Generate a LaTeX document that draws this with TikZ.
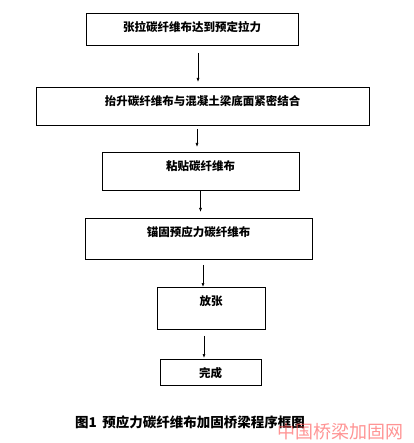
\documentclass[tikz,border=0pt]{standalone}
\usepackage{fontspec}
\newfontfamily\cjk{Noto Sans CJK SC}
\usepackage{tikz}
\usetikzlibrary{arrows.meta,positioning}

\begin{document}
\begin{tikzpicture}[x=1pt, y=-1pt, >={Latex[length=4pt,width=3pt]},
  stepbox/.style={draw, line width=0.8pt, inner sep=0pt, anchor=north, text height=18pt, font=\cjk\bfseries\fontsize{11.5}{12}\selectfont},
  flow/.style={->, line width=0.6pt}]
  \useasboundingbox (0,0) rectangle (413,443);
  % process steps
  \node[stepbox, minimum width=212pt, text depth=14pt] (s1) at (192,13) {张拉碳纤维布达到预定拉力};
  \node[stepbox, minimum width=333pt, text depth=20pt] (s2) at (202.5,87) {抬升碳纤维布与混凝土梁底面紧密结合};
  \node[stepbox, minimum width=197pt, text depth=20pt] (s3) at (200.5,152) {粘贴碳纤维布};
  \node[stepbox, minimum width=227pt, text depth=23pt] (s4) at (198.5,218) {锚固预应力碳纤维布};
  \node[stepbox, minimum width=108pt, text depth=24pt] (s5) at (211,287) {放张};
  \node[stepbox, minimum width=101pt, text depth=8pt] (s6) at (210.5,359) {完成};
  % connectors
  \draw[flow, shorten <=7pt, shorten >=5pt] ([xshift=6pt]s1.south) -- ([xshift=6pt]s1.south |- s2.north);
  \draw[flow, shorten <=3pt, shorten >=5pt] ([xshift=-5.5pt]s2.south) -- ([xshift=-5.5pt]s2.south |- s3.north);
  \draw[flow, shorten >=6pt] (s3.south) -- (s3.south |- s4.north);
  \draw[flow, shorten <=5pt] ([xshift=4.5pt]s4.south) -- ([xshift=4.5pt]s4.south |- s5.north);
  \draw[flow, shorten <=6pt, shorten >=1pt] ([xshift=-7pt]s5.south) -- ([xshift=-7pt]s5.south |- s6.north);
  % caption and watermark
  \node[font=\cjk\bfseries\fontsize{13.5}{14}\selectfont] (cap) at (190,422) {图1\, 预应力碳纤维布加固桥梁程序框图};
  \node[font=\cjk\fontsize{18}{19}\selectfont, text=red!70, opacity=0.6, inner sep=0pt] (wm) at (340,432) {中国桥梁加固网};
\end{tikzpicture}
\end{document}
